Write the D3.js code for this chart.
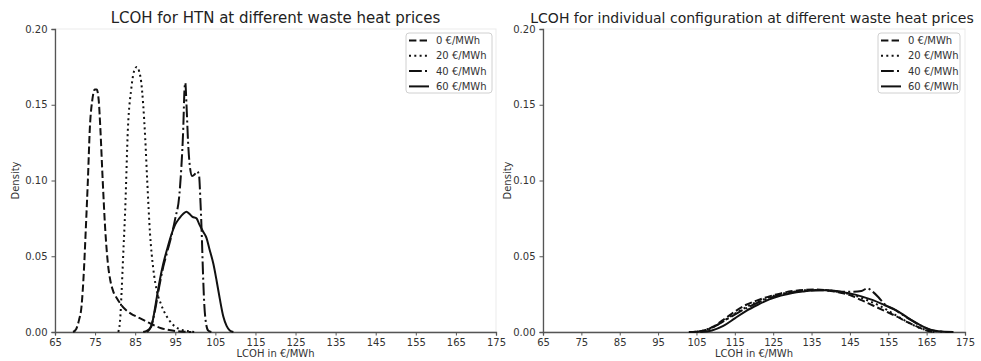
<!DOCTYPE html>
<html>
<head>
<meta charset="utf-8">
<script src="https://cdn.jsdelivr.net/npm/d3@7"></script>
<style>
  html, body { margin: 0; padding: 0; background: #fff; }
  svg { display: block; font-family: "DejaVu Sans", sans-serif; }
</style>
</head>
<body>
<svg id="chart" width="981" height="361"></svg>
<script>
// Series labels (waste heat price) and axis ticks
const priceLabels = ["0 €/MWh", "20 €/MWh", "40 €/MWh", "60 €/MWh"];
const xTicks = [65, 75, 85, 95, 105, 115, 125, 135, 145, 155, 165, 175];
const yTicks = [0, 0.05, 0.10, 0.15, 0.20];
const titles = [
  "LCOH for HTN at different waste heat prices",
  "LCOH for individual configuration at different waste heat prices"
];

// Density estimates, HTN: [LCOH in €/MWh, density]
const htn0 = [[69.5,0],[70.3,0.002],[71,0.008],[71.6,0.0165],[72.2,0.04],[72.7,0.069],[73.2,0.1],[73.7,0.135],
  [74.3,0.153],[74.9,0.16],[75.4,0.16],[75.9,0.153],[76.3,0.135],[76.9,0.1],[77.5,0.069],[78.2,0.045],[78.8,0.034],
  [79.5,0.027],[80.5,0.022],[81.5,0.018],[82.5,0.015],[84,0.012],[85.5,0.01],[87,0.008],[88.5,0.006],[90,0.004],
  [91.5,0.0025],[93,0.0015],[95,0.0007],[97,0.0002],[99,0]];
const htn20 = [[80.8,0],[81.3,0.01],[81.6,0.026],[82,0.05],[82.5,0.08],[83.2,0.135],[84,0.16],[84.7,0.172],
  [85.4,0.175],[86,0.172],[86.5,0.165],[87,0.15],[87.5,0.128],[88,0.1],[88.7,0.065],[89.5,0.042],[90.5,0.026],
  [91.5,0.018],[92.5,0.012],[93.7,0.007],[95,0.0035],[96.5,0.0015],[98,0.0006],[100,0]];
const htn40 = [[88,0],[89,0.004],[90,0.015],[91,0.03],[92,0.043],[93,0.053],[94,0.063],[95,0.075],[96,0.09],
  [96.5,0.108],[97,0.135],[97.3,0.16],[97.5,0.1645],[97.8,0.15],[98.2,0.125],[98.7,0.108],[99.2,0.103],
  [99.8,0.104],[100.4,0.106],[100.9,0.104],[101.3,0.085],[101.6,0.065],[101.9,0.04],[102.2,0.02],[102.6,0.007],
  [103.2,0.001],[104,0]];
const htn60 = [[87,0],[88,0.001],[89,0.0035],[89.7,0.012],[90.4,0.023],[91.2,0.035],[92,0.045],[93,0.055],
  [94,0.064],[95,0.071],[96,0.075],[97,0.078],[97.8,0.0794],[98.5,0.078],[99.3,0.076],[100.3,0.075],[101,0.071],
  [102,0.066],[102.8,0.062],[103.5,0.055],[104.5,0.045],[105.3,0.034],[106.1,0.022],[107,0.01],[107.8,0.004],
  [108.6,0.001],[109.5,0]];

// Density estimates, individual configuration
const ind0 = [[103,0],[106,0.0005],[109,0.003],[112,0.008],[115,0.0135],[118,0.018],[121,0.021],[124,0.0235],
  [127,0.0255],[130,0.027],[133,0.0278],[136,0.028],[139,0.0275],[142,0.0262],[145,0.0244],[148,0.021],
  [151,0.0175],[154,0.014],[157,0.0105],[160,0.0065],[163,0.003],[165,0.001],[167,0]];
const ind20 = [[105,0],[108,0.002],[111,0.0055],[114,0.0105],[117,0.015],[120,0.019],[123,0.022],[126,0.0245],
  [129,0.026],[132,0.0272],[135,0.0278],[138,0.0277],[141,0.027],[144,0.0255],[147,0.0235],[150,0.0205],
  [153,0.017],[156,0.0125],[159,0.008],[162,0.004],[165,0.0012],[167,0]];
const ind40 = [[104,0],[107,0.0008],[110,0.004],[113,0.0085],[116,0.013],[119,0.017],[122,0.0205],[125,0.0232],
  [128,0.0252],[131,0.0265],[134,0.0273],[137,0.0276],[140,0.0272],[143,0.0266],[146,0.0265],[148,0.027],
  [149.5,0.0288],[151,0.0265],[152.5,0.0228],[154,0.0185],[157,0.0142],[160,0.0093],[163,0.0048],[166,0.0014],
  [169,0.0002],[171,0]];
const ind60 = [[106,0],[109,0.001],[112,0.004],[115,0.009],[118,0.014],[121,0.018],[124,0.0215],[127,0.024],
  [130,0.0258],[133,0.0268],[136,0.0275],[139,0.0275],[142,0.0268],[145,0.0255],[148,0.0235],[151,0.021],
  [154,0.0178],[157,0.0145],[160,0.0095],[163,0.005],[166,0.0015],[169,0.0003],[172,0]];

// Line styles per price level
const dashes = ["7.4,3.2", "2,3.3", "12.8,3.2,2,3.2", null];

const svg = d3.select("#chart");

const panels = [
  { series: [htn0, htn20, htn40, htn60], x0: 55, x1: 496, title: titles[0], titleX: 275.5, titleSize: 15, ylabX: 15, legendX: 406, legendW: 86 },
  { series: [ind0, ind20, ind40, ind60], x0: 543, x1: 965, title: titles[1], titleX: 752, titleSize: 14, ylabX: 507, legendX: 878, legendW: 82 }
];
const yTop = 29, yBottom = 332;

panels.forEach(p => {
  const x = d3.scaleLinear().domain([65, 175]).range([p.x0, p.x1]);
  const y = d3.scaleLinear().domain([0, 0.2]).range([yBottom, yTop]);
  const g = svg.append("g");

  // light frame (top/right)
  g.append("rect").attr("x", p.x0).attr("y", yTop).attr("width", p.x1 - p.x0).attr("height", yBottom - yTop)
    .attr("fill", "none").attr("stroke", "#ebebeb").attr("stroke-width", 1);

  // axes
  const xAxis = d3.axisBottom(x).tickValues(xTicks).tickSize(3.5).tickPadding(3).tickFormat(d3.format("d"));
  const yAxis = d3.axisLeft(y).tickValues(yTicks).tickSize(3.5).tickPadding(4).tickFormat(d3.format(".2f"));
  const gx = g.append("g").attr("transform", `translate(0,${yBottom})`).call(xAxis);
  const gy = g.append("g").attr("transform", `translate(${p.x0},0)`).call(yAxis);
  [gx, gy].forEach(a => {
    a.select(".domain").attr("stroke", "#555").attr("stroke-width", 1.3);
    a.selectAll(".tick line").attr("stroke", "#555").attr("stroke-width", 1);
    a.selectAll(".tick text").attr("fill", "#333").style("font-size", "10px").style("font-family", "DejaVu Sans");
  });

  // density curves
  const line = d3.line().x(d => x(d[0])).y(d => y(d[1])).curve(d3.curveMonotoneX);
  p.series.forEach((s, i) => {
    g.append("path").datum(s).attr("d", line)
      .attr("fill", "none").attr("stroke", "#111").attr("stroke-width", 2)
      .attr("stroke-dasharray", dashes[i]);
  });

  // titles and axis labels
  g.append("text").attr("x", p.titleX).attr("y", 22.5).attr("text-anchor", "middle")
    .attr("fill", "#222").style("font-size", p.titleSize + "px").text(p.title);
  g.append("text").attr("x", (p.x0 + p.x1) / 2).attr("y", 357).attr("text-anchor", "middle")
    .attr("fill", "#333").style("font-size", "10px").text("LCOH in €/MWh");
  g.append("text").attr("transform", `translate(${p.ylabX + 4},${(yTop + yBottom) / 2}) rotate(-90)`)
    .attr("text-anchor", "middle").attr("fill", "#333").style("font-size", "10px").text("Density");

  // legend
  const lg = g.append("g").attr("transform", `translate(${p.legendX},33)`);
  lg.append("rect").attr("width", p.legendW).attr("height", 60).attr("rx", 3)
    .attr("fill", "#fff").attr("fill-opacity", 0.8).attr("stroke", "#d0d0d0").attr("stroke-width", 1);
  priceLabels.forEach((lab, i) => {
    const yy = 7.5 + i * 15.3;
    lg.append("line").attr("x1", 3).attr("x2", 23).attr("y1", yy).attr("y2", yy)
      .attr("stroke", "#111").attr("stroke-width", 2).attr("stroke-dasharray", dashes[i]);
    lg.append("text").attr("x", 30).attr("y", yy + 3.5).attr("fill", "#333")
      .style("font-size", "10px").text(lab);
  });
});
</script>
</body>
</html>
